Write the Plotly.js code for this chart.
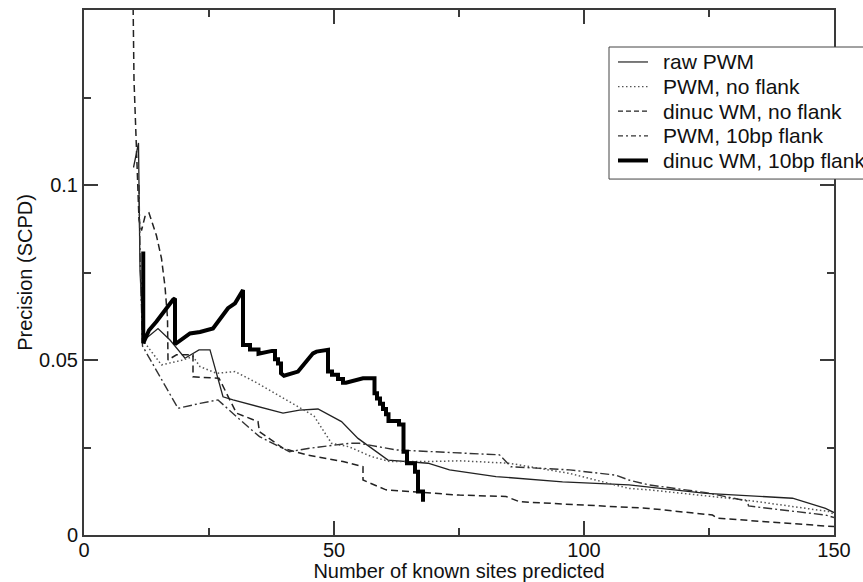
<!DOCTYPE html>
<html>
<head>
<meta charset="utf-8">
<script src="https://cdn.plot.ly/plotly-3.0.1.min.js"></script>
<style>
  html, body { margin: 0; padding: 0; background: #fff; }
  #chart { width: 863px; height: 582px; }
</style>
</head>
<body>
<div id="chart"></div>
<script>
// Precision vs. number of known sites predicted, for five weight-matrix variants.

const seriesNames = [
  "raw PWM",
  "PWM, no flank",
  "dinuc WM, no flank",
  "PWM, 10bp flank",
  "dinuc WM, 10bp flank"
];

const rawPwmX = [9.9, 10.9, 11.2, 11.85, 14.8, 17.2, 20.2, 21.2, 23.0, 25.2, 27.8, 29.8, 39.8, 43.1, 46.8, 51.5, 54.8, 60.8, 68.8, 73.1, 82.4, 95.7, 109, 124.4, 141.7, 148.3, 150];
const rawPwmY = [0.105, 0.112, 0.0757, 0.0555, 0.059, 0.0557, 0.0505, 0.0514, 0.0529, 0.0529, 0.0395, 0.0386, 0.0348, 0.0357, 0.0360, 0.0324, 0.0276, 0.0214, 0.0205, 0.0186, 0.0167, 0.0152, 0.0143, 0.0119, 0.0105, 0.0076, 0.0064];

const pwmNoFlankX = [11.4, 11.85, 15.5, 19.8, 21.8, 23.2, 26.5, 30.2, 34.8, 42.5, 46.0, 49.5, 53.0, 57.5, 61.1, 69.1, 75.1, 85.1, 97.1, 109, 113, 132.3, 149, 150];
const pwmNoFlankY = [0.072, 0.0555, 0.0486, 0.0500, 0.0510, 0.0481, 0.0462, 0.0467, 0.0433, 0.0370, 0.0340, 0.0262, 0.0252, 0.0224, 0.0210, 0.0210, 0.0212, 0.0205, 0.0176, 0.0133, 0.0129, 0.0100, 0.0067, 0.0059];

const dinucNoFlankX = [9.75, 10.0, 10.5, 11.0, 11.5, 12.2, 13.0, 14.5, 15.5, 16.2, 16.7, 16.8, 18.5, 21.8, 21.8, 27.0, 30.5, 34.8, 35.1, 39.8, 44.5, 51.8, 55.8, 55.8, 60.4, 75.1, 84.4, 87.1, 113, 125.7, 126.7, 150];
const dinucNoFlankY = [0.160, 0.130, 0.110, 0.090, 0.087, 0.091, 0.092, 0.0855, 0.079, 0.071, 0.062, 0.050, 0.0515, 0.0515, 0.0452, 0.0448, 0.0348, 0.0324, 0.0295, 0.0248, 0.0229, 0.0210, 0.0195, 0.0157, 0.0129, 0.0114, 0.0110, 0.0095, 0.0076, 0.0057, 0.0048, 0.0024];

const pwmFlankX = [11.0, 11.2, 11.7, 14.5, 18.8, 23.2, 26.8, 30.5, 35.1, 41.1, 45.1, 53.1, 55.1, 62.5, 69.1, 75.1, 83.1, 85.4, 97.1, 106.4, 109, 113, 124.4, 132.7, 132.9, 148.3, 150];
const pwmFlankY = [0.100, 0.081, 0.054, 0.047, 0.0362, 0.0376, 0.0386, 0.0338, 0.0281, 0.0238, 0.0248, 0.0262, 0.0262, 0.0243, 0.0238, 0.0233, 0.0229, 0.0195, 0.0186, 0.0171, 0.0157, 0.0143, 0.0121, 0.0097, 0.0083, 0.0057, 0.0050];

const dinucFlankX = [11.85, 11.85, 13.0, 14.5, 17.8, 18.2, 18.2, 21.2, 23.2, 25.8, 28.8, 30.2, 31.8, 31.8, 33.2, 33.2, 34.9, 34.9, 37.6, 38.2, 38.2, 38.8, 38.8, 39.4, 39.4, 40.0, 42.8, 45.8, 46.5, 48.1, 48.8, 48.8, 49.6, 49.6, 50.8, 50.8, 51.8, 51.8, 52.4, 55.8, 57.8, 58.1, 58.1, 58.6, 58.6, 59.2, 59.2, 59.8, 59.8, 60.4, 60.4, 60.9, 60.9, 63.0, 63.0, 63.9, 63.9, 64.6, 64.6, 66.2, 66.2, 66.8, 66.8, 67.8, 67.8];
const dinucFlankY = [0.081, 0.0548, 0.0585, 0.061, 0.0672, 0.0676, 0.0545, 0.0576, 0.058, 0.059, 0.0648, 0.0662, 0.070, 0.0543, 0.0543, 0.0530, 0.0530, 0.0518, 0.0526, 0.0526, 0.0502, 0.0502, 0.0490, 0.0490, 0.0462, 0.0455, 0.0467, 0.0519, 0.0524, 0.0529, 0.0529, 0.0467, 0.0467, 0.0458, 0.0458, 0.0446, 0.0446, 0.0435, 0.0435, 0.0448, 0.0448, 0.0448, 0.0405, 0.0405, 0.0390, 0.0390, 0.0375, 0.0375, 0.0360, 0.0360, 0.0345, 0.0345, 0.0326, 0.0326, 0.0316, 0.0316, 0.0238, 0.0238, 0.0205, 0.0205, 0.0181, 0.0181, 0.0124, 0.0124, 0.0095];

const xTickVals = [0, 50, 100, 150];
const yTickVals = [0, 0.05, 0.1];
const yTickText = ["0", "0.05", "0.1"];

const FONT = "Liberation Sans, Arial, Helvetica, sans-serif";
const AXIS_COLOR = "#3a3a3a";

// Line style for each series: [colour, width, dash]
const styles = [
  ["#222", 1.3, "solid"],
  ["#555", 1.5, "1.5px,2.5px"],
  ["#222", 1.5, "7px,4px"],
  ["#333", 1.4, "9px,3px,2px,3px"],
  ["#000", 4, "solid"]
];
// Dash patterns used for the short key samples
const keyDash = ["solid", "1.5px,2.5px", "5px,3px", "5px,3px,2px,3px", "solid"];

const seriesX = [rawPwmX, pwmNoFlankX, dinucNoFlankX, pwmFlankX, dinucFlankX];
const seriesY = [rawPwmY, pwmNoFlankY, dinucNoFlankY, pwmFlankY, dinucFlankY];

const traces = seriesNames.map((name, i) => ({
  type: "scatter", mode: "lines", name: name,
  x: seriesX[i], y: seriesY[i],
  line: { color: styles[i][0], width: styles[i][1], dash: styles[i][2], shape: "linear" },
  showlegend: false, hoverinfo: "skip"
}));

// Boxed key in the upper right, running off the right edge of the figure.
const keyBox = { left: 0.7, right: 1.09, top: 0.9295, bottom: 0.678 };
const keyRowTop = 0.901, keyRowStep = 0.0469;
const keySampleX = [0.712, 0.752];
const keyTextX = 0.769;

const shapes = [{
  type: "rect", xref: "paper", yref: "paper", layer: "above",
  x0: keyBox.left, x1: keyBox.right, y0: keyBox.bottom, y1: keyBox.top,
  fillcolor: "#fff", line: { color: "#444", width: 1 }
}];
const annotations = [];
seriesNames.forEach((name, i) => {
  const yk = keyRowTop - i * keyRowStep;
  shapes.push({
    type: "line", xref: "paper", yref: "paper", layer: "above",
    x0: keySampleX[0], x1: keySampleX[1], y0: yk, y1: yk,
    line: { color: styles[i][0], width: i === 4 ? 4 : 1.2, dash: keyDash[i] }
  });
  annotations.push({
    xref: "paper", yref: "paper", x: keyTextX, y: yk,
    xanchor: "left", yanchor: "middle", showarrow: false,
    text: name, font: { family: FONT, size: 21, color: "#111" }
  });
});

const axisCommon = {
  showgrid: false, zeroline: false,
  showline: true, linecolor: AXIS_COLOR, linewidth: 2,
  mirror: "allticks",
  ticks: "inside", ticklen: 14, tickwidth: 2, tickcolor: AXIS_COLOR,
  tickfont: { family: FONT, size: 20, color: "#111" }
};

const layout = {
  width: 863, height: 582,
  margin: { l: 84, r: 29, t: 10, b: 47, autoexpand: false },
  paper_bgcolor: "#fff", plot_bgcolor: "#fff",
  font: { family: FONT, size: 20, color: "#111" },
  showlegend: false,
  xaxis: Object.assign({}, axisCommon, {
    range: [0, 150],
    tickmode: "array", tickvals: xTickVals,
    ticklabelstandoff: -4,
    minor: { tickmode: "array", tickvals: [25, 75, 125], ticklen: 7, tickwidth: 2, tickcolor: AXIS_COLOR, ticks: "inside" },
    title: { text: "Number of known sites predicted", font: { family: FONT, size: 20, color: "#111" }, standoff: 2 }
  }),
  yaxis: Object.assign({}, axisCommon, {
    range: [0, 0.15],
    tickmode: "array", tickvals: yTickVals, ticktext: yTickText,
    minor: { tickmode: "array", tickvals: [0.025, 0.075, 0.125], ticklen: 7, tickwidth: 2, tickcolor: AXIS_COLOR, ticks: "inside" },
    title: { text: "Precision (SCPD)", font: { family: FONT, size: 20, color: "#111" }, standoff: 1 }
  }),
  shapes: shapes,
  annotations: annotations
};

Plotly.newPlot("chart", traces, layout, { staticPlot: true, displayModeBar: false });
</script>
</body>
</html>
